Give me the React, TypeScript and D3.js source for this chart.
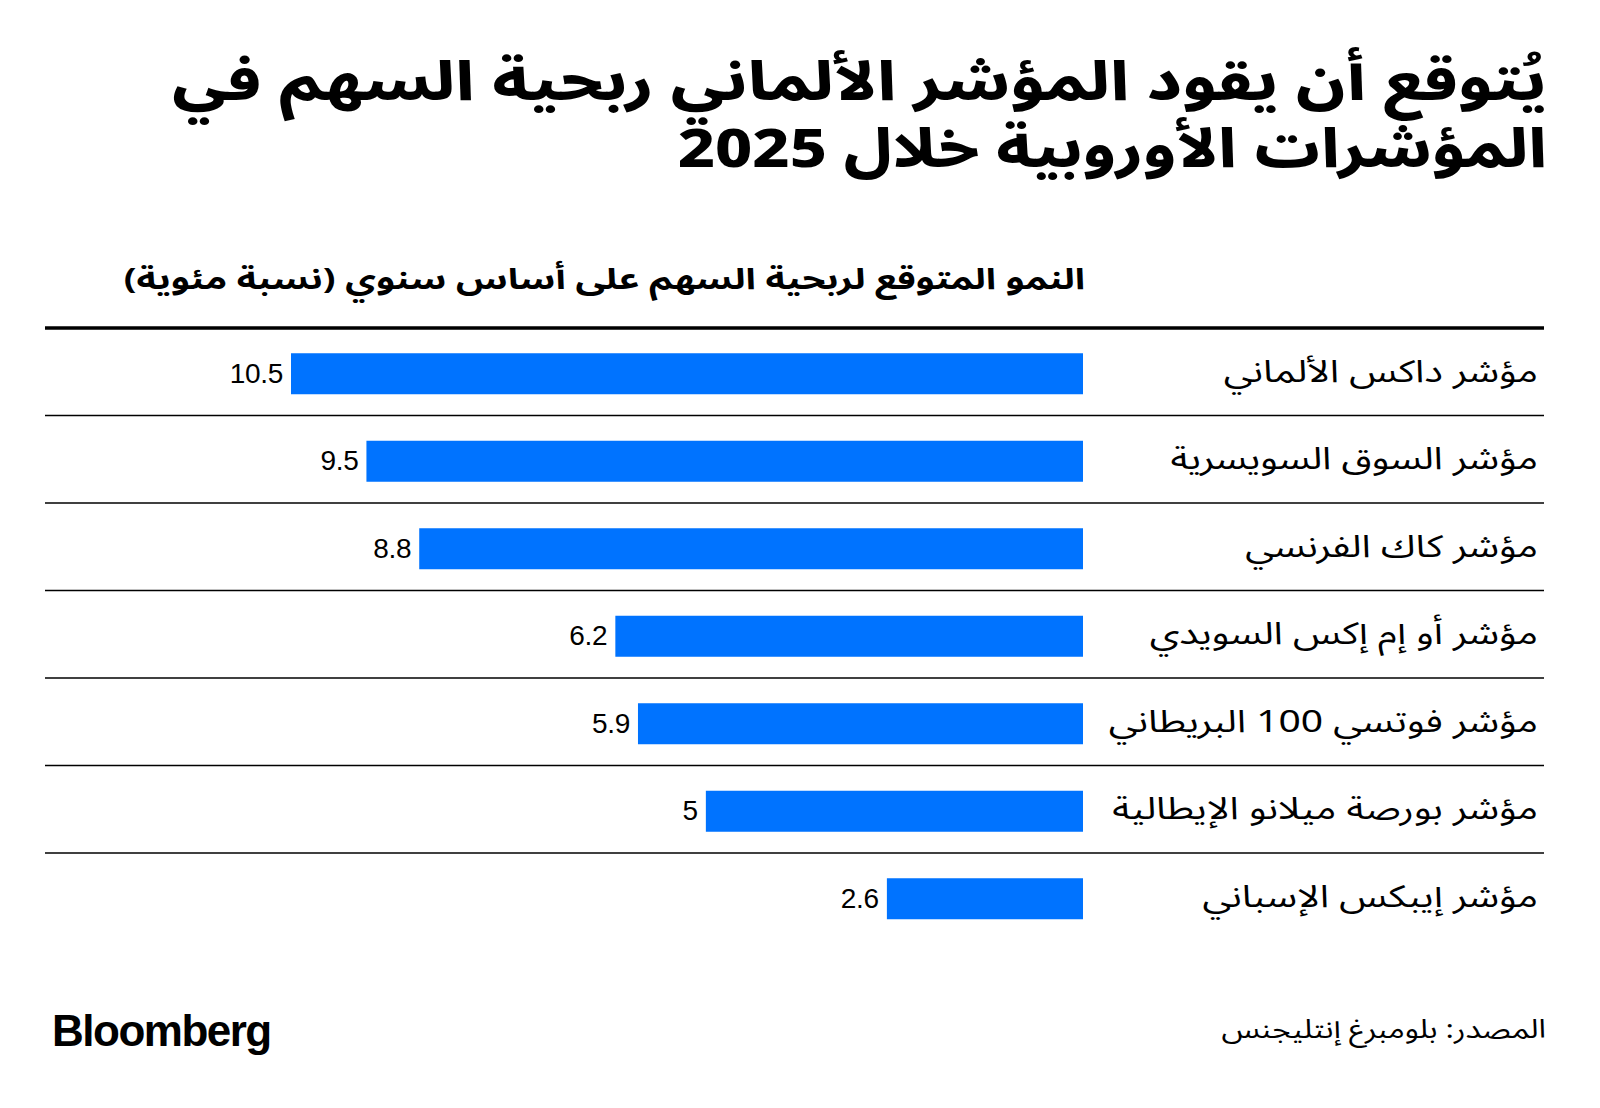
import React from "react";
import * as d3 from "d3";

const categories = [
  "مؤشر داكس الألماني",
  "مؤشر السوق السويسرية",
  "مؤشر كاك الفرنسي",
  "مؤشر أو إم إكس السويدي",
  "مؤشر فوتسي 100 البريطاني",
  "مؤشر بورصة ميلانو الإيطالية",
  "مؤشر إيبكس الإسباني",
];
const values = [10.5, 9.5, 8.8, 6.2, 5.9, 5, 2.6];
const valueLabels = ["10.5", "9.5", "8.8", "6.2", "5.9", "5", "2.6"];

const titleLines = [
  "يُتوقع أن يقود المؤشر الألماني ربحية السهم في",
  "المؤشرات الأوروبية خلال 2025",
];
const subtitle = "النمو المتوقع لربحية السهم على أساس سنوي (نسبة مئوية)";
const source = "المصدر: بلومبرغ إنتليجنس";

const AR = "'Noto Sans Arabic', 'DejaVu Sans', sans-serif";
const LAT = "'Liberation Sans', Arial, sans-serif";

function RtlText(props: {
  x: number;
  y: number;
  sx: number;
  size: number;
  weight?: number;
  children: React.ReactNode;
}) {
  return (
    <text
      transform={`translate(${props.x},${props.y}) scale(${props.sx},1)`}
      direction="rtl"
      textAnchor="start"
      fontFamily={AR}
      fontWeight={props.weight ?? 400}
      fontSize={props.size}
      fill="#000"
    >
      {props.children}
    </text>
  );
}

export default function App() {
  const W = 1600;
  const H = 1108;
  const x = d3.scaleLinear().domain([0, 10.5]).range([1083, 291]);
  const y = d3
    .scaleBand<number>()
    .domain(d3.range(categories.length))
    .range([328, 328 + 87.5 * categories.length])
    .paddingInner(0)
    .paddingOuter(0);
  const barH = 41;
  const titleScale = [1.235, 1.195];
  return (
    <svg
      width={W}
      height={H}
      style={{ position: "absolute", left: 0, top: 0, background: "#fff" }}
    >
      <rect width={W} height={H} fill="#fff" />
      {titleLines.map((t, i) => (
        <RtlText key={i} x={1547} y={100 + i * 67} sx={titleScale[i]} size={54} weight={800}>
          {t}
        </RtlText>
      ))}
      <RtlText x={1085} y={289} sx={1.3} size={29} weight={700}>
        {subtitle}
      </RtlText>
      <line x1={45} x2={1544} y1={328} y2={328} stroke="#000" strokeWidth={3.5} />
      {categories.map((c, i) => {
        const y0 = y(i)!;
        const cy = y0 + y.bandwidth() / 2;
        return (
          <g key={i}>
            {i > 0 && (
              <line x1={45} x2={1544} y1={y0} y2={y0} stroke="#000" strokeWidth={1.3} />
            )}
            <rect
              x={x(values[i])}
              y={cy - barH / 2 + 2}
              width={x(0) - x(values[i])}
              height={barH}
              fill="#0073FF"
            />
            <text
              x={x(values[i]) - 8}
              y={cy + 11}
              textAnchor="end"
              fontFamily={LAT}
              fontSize={28}
              letterSpacing={-0.3}
              fill="#000"
            >
              {valueLabels[i]}
            </text>
            <RtlText x={1538} y={cy + 10} sx={1.26} size={31}>
              {c}
            </RtlText>
          </g>
        );
      })}
      <text
        x={52}
        y={1046}
        fontFamily={LAT}
        fontWeight={700}
        fontSize={44}
        letterSpacing={-1.5}
        fill="#000"
      >
        Bloomberg
      </text>
      <RtlText x={1546} y={1038} sx={1.21} size={26}>
        {source}
      </RtlText>
    </svg>
  );
}
